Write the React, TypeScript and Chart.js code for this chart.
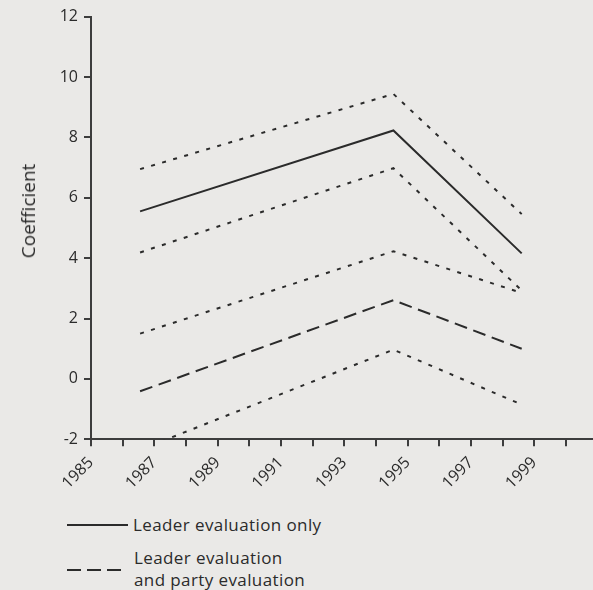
import React, { useEffect, useRef } from "react";
import { Chart, registerables } from "chart.js";

Chart.register(...registerables);

// ---- data ----
const ELECTION_YEARS = [1986.55, 1994.55, 1998.6];
const LEADER_ONLY = [5.55, 8.23, 4.16];
const LEADER_ONLY_UPPER = [6.95, 9.44, 5.46];
const LEADER_ONLY_LOWER = [4.19, 6.98, 2.93];
const LEADER_PARTY = [-0.41, 2.61, 1.0];
const LEADER_PARTY_UPPER = [1.5, 4.23, 2.85];
const LEADER_PARTY_LOWER = [-2.35, 0.97, -0.85];

const X_TICKS = [1985, 1986, 1987, 1988, 1989, 1990, 1991, 1992, 1993, 1994, 1995, 1996, 1997, 1998, 1999, 2000];
const X_LABELED = [1985, 1987, 1989, 1991, 1993, 1995, 1997, 1999];
const Y_MIN = -2;
const Y_MAX = 12;
const Y_STEP = 2;

const LEGEND_SOLID = "Leader evaluation only";
const LEGEND_DASHED = ["Leader evaluation", "and party evaluation"];
const Y_TITLE = "Coefficient";

const INK = "#2b2b2b";
const AXIS = "#3d3d3d";
const BG = "#eae9e7";
const FONT = "'Open Sans', 'Noto Sans', sans-serif";

const pts = (ys: number[]) => ELECTION_YEARS.map((x, i) => ({ x, y: ys[i] }));

export default function App() {
  const ref = useRef<HTMLCanvasElement | null>(null);

  useEffect(() => {
    if (!ref.current) return;
    const dotted = [4, 7.5];
    const dashed = [13, 6.7];
    const base = {
      borderColor: INK,
      borderWidth: 2,
      pointRadius: 0,
      tension: 0,
      fill: false,
      borderCapStyle: "butt" as const,
    };
    const chart = new Chart(ref.current, {
      type: "line",
      data: {
        datasets: [
          { ...base, label: "Leader evaluation only", data: pts(LEADER_ONLY) },
          { ...base, label: "upper", data: pts(LEADER_ONLY_UPPER), borderDash: dotted },
          { ...base, label: "lower", data: pts(LEADER_ONLY_LOWER), borderDash: dotted },
          { ...base, label: "Leader evaluation and party evaluation", data: pts(LEADER_PARTY), borderDash: dashed },
          { ...base, label: "upper2", data: pts(LEADER_PARTY_UPPER), borderDash: dotted },
          { ...base, label: "lower2", data: pts(LEADER_PARTY_LOWER), borderDash: dotted },
        ],
      },
      options: {
        animation: false,
        responsive: false,
        layout: { padding: { left: 0, top: 16.7, right: 42.3, bottom: 0 } },
        plugins: { legend: { display: false }, tooltip: { enabled: false } },
        scales: {
          x: {
            type: "linear",
            min: 1985,
            max: 2001,
            afterBuildTicks: (scale: any) => {
              scale.ticks = X_TICKS.map((v) => ({ value: v }));
            },
            afterFit: (scale: any) => {
              scale.height = 500 - 439.3;
            },
            ticks: {
              autoSkip: false,
              minRotation: 45,
              maxRotation: 45,
              padding: 7,
              color: INK,
              font: { family: FONT, size: 16 },
              callback: (v: any) => (X_LABELED.includes(Number(v)) ? String(v) : ""),
            },
            grid: {
              display: true,
              drawOnChartArea: false,
              drawTicks: true,
              tickLength: 7,
              color: AXIS,
              lineWidth: 2,
            },
            border: { display: true, color: AXIS, width: 2 },
          },
          y: {
            type: "linear",
            min: Y_MIN,
            max: Y_MAX,
            afterFit: (scale: any) => {
              scale.width = 91;
            },
            ticks: {
              stepSize: Y_STEP,
              padding: 6,
              color: INK,
              font: { family: FONT, size: 16 },
            },
            grid: {
              display: true,
              drawOnChartArea: false,
              drawTicks: true,
              tickLength: 7,
              color: AXIS,
              lineWidth: 2,
            },
            border: { display: true, color: AXIS, width: 2 },
          },
        },
      },
    });
    return () => chart.destroy();
  }, []);

  const textStyle: React.CSSProperties = {
    position: "absolute",
    fontFamily: FONT,
    fontSize: 17,
    lineHeight: "22px",
    letterSpacing: "0.4px",
    color: INK,
    whiteSpace: "nowrap",
  };

  return (
    <div
      style={{
        position: "fixed",
        left: 0,
        top: 0,
        width: 593,
        height: 590,
        overflow: "hidden",
        background: BG,
      }}
    >
      <canvas ref={ref} width={640} height={500} style={{ position: "absolute", left: 0, top: 0, width: 640, height: 500 }} />
      <div
        style={{
          position: "absolute",
          left: 28,
          top: 211,
          transform: "translate(-50%, -50%) rotate(-90deg)",
          fontFamily: FONT,
          fontSize: 19,
          color: INK,
          whiteSpace: "nowrap",
          lineHeight: "24px",
        }}
      >
        {Y_TITLE}
      </div>
      <svg style={{ position: "absolute", left: 67, top: 520, overflow: "visible" }} width={62} height={10}>
        <line x1={0} y1={5} x2={61} y2={5} stroke={INK} strokeWidth={2} />
      </svg>
      <div style={{ ...textStyle, left: 133, top: 514 }}>{LEGEND_SOLID}</div>
      <svg style={{ position: "absolute", left: 67, top: 565, overflow: "visible" }} width={56} height={10}>
        <line x1={0} y1={5} x2={54} y2={5} stroke={INK} strokeWidth={2} strokeDasharray="14 6" />
      </svg>
      <div style={{ ...textStyle, left: 134, top: 547 }}>
        {LEGEND_DASHED[0]}
        <br />
        {LEGEND_DASHED[1]}
      </div>
    </div>
  );
}
